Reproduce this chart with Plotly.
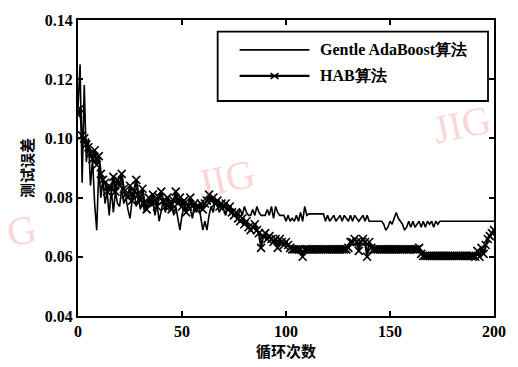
import plotly.graph_objects as go

iterations = list(range(0, 201))

gentle_adaboost = [
    0.110, 0.125, 0.085, 0.118, 0.092, 0.100, 0.084, 0.093, 0.078, 0.069,
    0.090, 0.080, 0.086, 0.078, 0.082, 0.074, 0.083, 0.075, 0.082, 0.078,
    0.077, 0.083, 0.078, 0.080, 0.076, 0.073, 0.079, 0.082, 0.077, 0.080,
    0.076, 0.079, 0.075, 0.078, 0.080, 0.077, 0.079, 0.074, 0.078, 0.072,
    0.076, 0.079, 0.075, 0.078, 0.076, 0.079, 0.074, 0.077, 0.073, 0.069,
    0.074, 0.077, 0.075, 0.078, 0.076, 0.073, 0.077, 0.075, 0.078, 0.074,
    0.069, 0.072, 0.069, 0.074, 0.077, 0.075, 0.079, 0.077, 0.075, 0.078,
    0.076, 0.074, 0.077, 0.075, 0.076, 0.074, 0.075, 0.074, 0.076, 0.074,
    0.077, 0.075, 0.074, 0.074, 0.076, 0.074, 0.077, 0.075, 0.074, 0.074,
    0.074, 0.076, 0.074, 0.077, 0.073, 0.077, 0.075, 0.074, 0.074, 0.074,
    0.072, 0.074, 0.072, 0.073, 0.072, 0.074, 0.072, 0.075, 0.072, 0.077,
    0.074, 0.0745, 0.0745, 0.0745, 0.0745, 0.0745, 0.0745, 0.0745, 0.0745, 0.072,
    0.074, 0.072, 0.073, 0.074, 0.072, 0.073, 0.074, 0.072, 0.074, 0.073,
    0.072, 0.074, 0.072, 0.074, 0.073, 0.072, 0.073, 0.074, 0.072, 0.074,
    0.072, 0.072, 0.072, 0.072, 0.072, 0.072, 0.072, 0.071, 0.069, 0.070,
    0.072, 0.071, 0.073, 0.075, 0.073, 0.072, 0.071, 0.069, 0.070, 0.072,
    0.070, 0.072, 0.070, 0.071, 0.072, 0.070, 0.072, 0.070, 0.072, 0.071,
    0.072, 0.070, 0.072, 0.071, 0.072, 0.072, 0.072, 0.072, 0.072, 0.072,
    0.072, 0.072, 0.072, 0.072, 0.072, 0.072, 0.072, 0.072, 0.072, 0.072,
    0.072, 0.072, 0.072, 0.072, 0.072, 0.072, 0.072, 0.072, 0.072, 0.072,
    0.072,
]

hab = [
    0.108, 0.110, 0.101, 0.100, 0.098, 0.097, 0.095, 0.093, 0.096, 0.091,
    0.094, 0.088, 0.086, 0.085, 0.082, 0.084, 0.083, 0.087, 0.082, 0.086,
    0.084, 0.088, 0.083, 0.081, 0.080, 0.084, 0.079, 0.082, 0.086, 0.081,
    0.079, 0.083, 0.078, 0.076, 0.080, 0.078, 0.081, 0.079, 0.077, 0.080,
    0.082, 0.079, 0.077, 0.080, 0.078, 0.076, 0.079, 0.082, 0.078, 0.080,
    0.077, 0.079, 0.075, 0.077, 0.080, 0.077, 0.078, 0.076, 0.077, 0.078,
    0.076, 0.078, 0.079, 0.081, 0.079, 0.080, 0.078, 0.079, 0.077, 0.078,
    0.077, 0.078, 0.076, 0.077, 0.075, 0.074, 0.075, 0.073, 0.072, 0.073,
    0.071, 0.072, 0.070, 0.069, 0.070, 0.071, 0.069, 0.068, 0.063, 0.067,
    0.068, 0.066, 0.067, 0.066, 0.065, 0.066, 0.063, 0.066, 0.065, 0.064,
    0.065, 0.064, 0.063, 0.0625, 0.0625, 0.0625, 0.0625, 0.0625, 0.060, 0.0625,
    0.0625, 0.0625, 0.0625, 0.0625, 0.0625, 0.0625, 0.0625, 0.0625, 0.0625, 0.0625,
    0.0625, 0.0625, 0.0625, 0.0625, 0.0625, 0.0625, 0.0625, 0.0625, 0.0625, 0.0625,
    0.063, 0.065, 0.065, 0.066, 0.065, 0.062, 0.065, 0.066, 0.065, 0.060,
    0.065, 0.063, 0.0625, 0.0625, 0.0625, 0.0625, 0.0625, 0.0625, 0.0625, 0.0625,
    0.0625, 0.0625, 0.0625, 0.0625, 0.0625, 0.0625, 0.0625, 0.0625, 0.0625, 0.0625,
    0.0625, 0.0625, 0.0625, 0.0625, 0.063, 0.061, 0.0603, 0.0603, 0.0603, 0.0603,
    0.0603, 0.0603, 0.0603, 0.0603, 0.0603, 0.0603, 0.0603, 0.0603, 0.0603, 0.0603,
    0.0603, 0.0603, 0.0603, 0.0603, 0.0603, 0.0603, 0.0603, 0.0603, 0.0603, 0.0603,
    0.0603, 0.060, 0.062, 0.060, 0.063, 0.061, 0.064, 0.066, 0.067, 0.068,
    0.069,
]

x_ticks = [0, 50, 100, 150, 200]
y_ticks = [0.04, 0.06, 0.08, 0.10, 0.12, 0.14]
series_names = ["Gentle AdaBoost算法", "HAB算法"]
x_title = "循环次数"
y_title = "测试误差"

W, H = 518, 367
L, R, T, B = 78, 495, 12, 319


def px(xp):
    return (xp - L) / (R - L)


def py(yp):
    return (B - yp) / (B - T)


serif = "Liberation Serif"
cjk = "Noto Sans CJK SC"

fig = go.Figure()
fig.add_trace(go.Scatter(
    x=iterations, y=gentle_adaboost, mode="lines",
    line=dict(color="black", width=1.6), name=series_names[0], showlegend=False,
))
fig.add_trace(go.Scatter(
    x=iterations, y=hab, mode="lines+markers",
    line=dict(color="black", width=2.2),
    marker=dict(symbol="x-thin", size=8, line=dict(color="black", width=1.6)),
    name=series_names[1], showlegend=False,
))

axis_common = dict(
    showline=True, linecolor="black", linewidth=2, mirror="ticks",
    ticks="inside", ticklen=5, tickwidth=1.5, tickcolor="black",
    showgrid=False, zeroline=False,
    tickfont=dict(family=serif, size=16, color="black", weight="bold"),
)

fig.update_xaxes(range=[0, 200], tickvals=x_ticks, ticktext=[str(v) for v in x_ticks],
                 title=dict(text=x_title, font=dict(family=cjk, size=15, color="black", weight="bold"),
                            standoff=4),
                 **axis_common)
fig.update_yaxes(range=[0.04, 0.14], tickvals=y_ticks, tickformat=".2f",
                 title=dict(text=y_title, font=dict(family=cjk, size=15, color="black", weight="bold"),
                            standoff=8),
                 **axis_common)

shapes = []
annotations = []
# legend box
shapes.append(dict(type="rect", xref="paper", yref="paper",
                   x0=px(218), x1=px(489), y0=py(96), y1=py(24),
                   line=dict(color="black", width=1.8), fillcolor="white", layer="above"))
shapes.append(dict(type="line", xref="paper", yref="paper",
                   x0=px(240), x1=px(310), y0=py(43), y1=py(43),
                   line=dict(color="black", width=1.6), layer="above"))
shapes.append(dict(type="line", xref="paper", yref="paper",
                   x0=px(240), x1=px(310), y0=py(70), y1=py(70),
                   line=dict(color="black", width=2.2), layer="above"))
# x marker in legend
for dx0, dy0, dx1, dy1 in [(-4, -3, 4, 3), (-4, 3, 4, -3)]:
    shapes.append(dict(type="line", xref="paper", yref="paper",
                       x0=px(275 + dx0), x1=px(275 + dx1), y0=py(70 + dy0), y1=py(70 + dy1),
                       line=dict(color="black", width=1.6), layer="above"))
annotations.append(dict(text=series_names[0], xref="paper", yref="paper",
                        x=px(319), y=py(43), xanchor="left", yanchor="middle", showarrow=False,
                        font=dict(family=serif, size=16, color="black", weight="bold")))
annotations.append(dict(text=series_names[1], xref="paper", yref="paper",
                        x=px(319), y=py(70), xanchor="left", yanchor="middle", showarrow=False,
                        font=dict(family=serif, size=16, color="black", weight="bold")))

# watermarks
wm = dict(family=serif, size=40, color="rgba(240,110,110,0.30)")
annotations.append(dict(text="JIG", xref="paper", yref="paper", x=px(463), y=py(120),
                        xanchor="center", yanchor="middle",
                        showarrow=False, textangle=-12, font=wm))
annotations.append(dict(text="JIG", xref="paper", yref="paper", x=px(226), y=py(176),
                        xanchor="center", yanchor="middle",
                        showarrow=False, textangle=-12, font=wm))
annotations.append(dict(text="G", xref="paper", yref="paper", x=px(0), y=py(230),
                        xanchor="left", yanchor="middle", showarrow=False, textangle=-12, font=wm))

fig.update_layout(
    width=W, height=H,
    margin=dict(l=L, r=W - R, t=T, b=H - B),
    paper_bgcolor="white", plot_bgcolor="white",
    shapes=shapes, annotations=annotations, showlegend=False,
)

fig.write_html("out.html")
